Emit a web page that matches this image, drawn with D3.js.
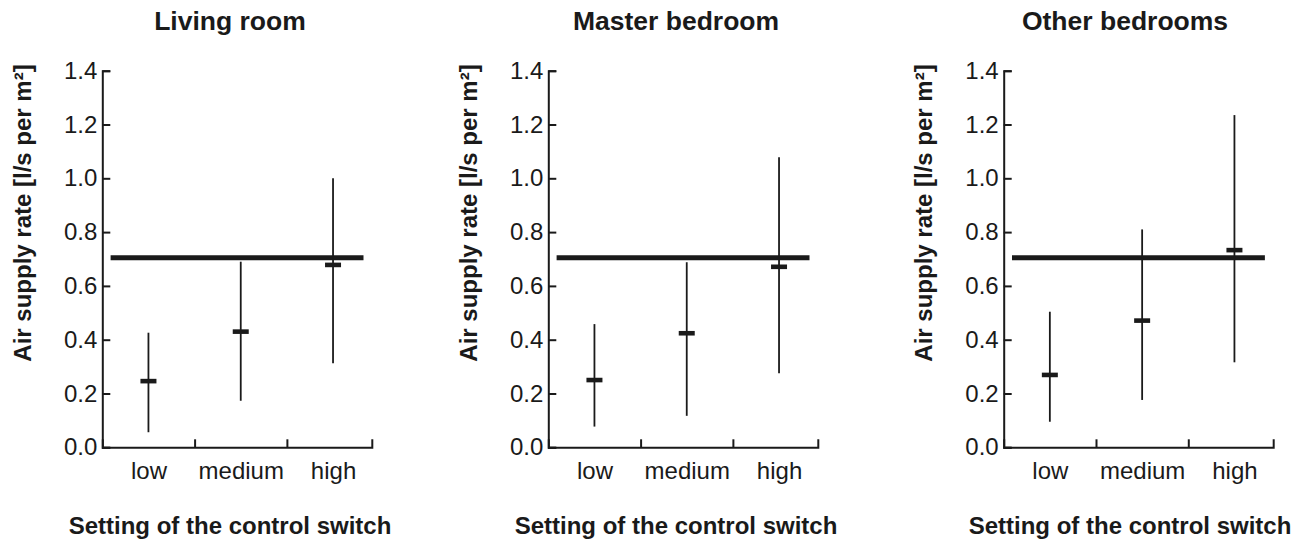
<!DOCTYPE html>
<html>
<head>
<meta charset="utf-8">
<script src="https://cdn.jsdelivr.net/npm/d3@7"></script>
<style>
  body { margin: 0; background: #fff; }
  svg { display: block; font-family: "Liberation Sans", Arial, sans-serif; }
  .axis path, .axis line { stroke: #1a1a1a; stroke-width: 2; }
  .axis text { font-size: 24px; fill: #1a1a1a; }
  .title { font-size: 26.5px; font-weight: bold; fill: #1a1a1a; }
  .xlabel, .ylabel { font-size: 24px; font-weight: bold; fill: #1a1a1a; }
</style>
</head>
<body>
<div id="chart"></div>
<script>
// data
var rooms = ["Living room", "Master bedroom", "Other bedrooms"];
var settings = ["low", "medium", "high"];
var yTicks = [0, 0.2, 0.4, 0.6, 0.8, 1.0, 1.2, 1.4];
var refValue = 0.705;

// mean / lower / upper per room, in order low, medium, high
var livingMean = [0.246, 0.430, 0.678];
var livingLow  = [0.056, 0.173, 0.312];
var livingHigh = [0.426, 0.690, 1.000];

var masterMean = [0.250, 0.424, 0.671];
var masterLow  = [0.077, 0.117, 0.275];
var masterHigh = [0.458, 0.688, 1.078];

var otherMean = [0.269, 0.471, 0.733];
var otherLow  = [0.095, 0.176, 0.316];
var otherHigh = [0.504, 0.810, 1.235];

var means = [livingMean, masterMean, otherMean],
    lows = [livingLow, masterLow, otherLow],
    highs = [livingHigh, masterHigh, otherHigh];

// layout
var W = 1309, H = 543;
var panelX = [102.3, 548.3, 1003.7],
    titleX = [230, 676, 1125],
    xTitleX = [230, 676, 1130],
    axisLen = 269.5,
    yTop = 70.7, yBottom = 447.3;

var svg = d3.select("#chart").append("svg")
  .attr("width", W)
  .attr("height", H);

var y = d3.scaleLinear().domain([0, 1.4]).range([yBottom, yTop]);
// categories sit at 0.5, 1.5, 2.5; axis stops a bit short of 3
var x = d3.scaleLinear().domain([0, 2.92]).range([0, axisLen]);

rooms.forEach(function(room, p) {
  var g = svg.append("g")
    .attr("transform", "translate(" + panelX[p] + ",0)");

  // y axis, ticks pointing inward
  g.append("g")
    .attr("class", "axis")
    .call(d3.axisLeft(y).tickValues(yTicks)
      .tickSize(-8).tickSizeOuter(-8).tickPadding(5)
      .tickFormat(d3.format(".1f")));

  // x axis line + inward ticks
  g.append("g")
    .attr("class", "axis")
    .attr("transform", "translate(0," + yBottom + ")")
    .call(d3.axisBottom(x).tickValues([1, 2])
      .tickSize(-8).tickSizeOuter(-8).tickFormat(""));

  // category labels
  var lab = g.append("g")
    .attr("class", "axis")
    .attr("transform", "translate(0," + yBottom + ")")
    .call(d3.axisBottom(x).tickValues([0.5, 1.5, 2.5])
      .tickSize(0).tickPadding(15)
      .tickFormat(function(d, i) { return settings[i]; }));
  lab.select(".domain").remove();

  // reference line
  g.append("line")
    .attr("x1", x(0.09)).attr("x2", x(2.83))
    .attr("y1", y(refValue)).attr("y2", y(refValue))
    .attr("stroke", "#1a1a1a")
    .attr("stroke-width", 5);

  var rows = settings.map(function(s, i) {
    return { pos: i + 0.5, mean: means[p][i], lo: lows[p][i], hi: highs[p][i] };
  });

  // whiskers
  g.selectAll(".whisker").data(rows).enter().append("line")
    .attr("class", "whisker")
    .attr("x1", function(d) { return x(d.pos); })
    .attr("x2", function(d) { return x(d.pos); })
    .attr("y1", function(d) { return y(d.lo); })
    .attr("y2", function(d) { return y(d.hi); })
    .attr("stroke", "#1a1a1a")
    .attr("stroke-width", 1.8);

  // mean markers
  g.selectAll(".mean").data(rows).enter().append("rect")
    .attr("class", "mean")
    .attr("x", function(d) { return x(d.pos) - 8; })
    .attr("y", function(d) { return y(d.mean) - 2.3; })
    .attr("width", 16)
    .attr("height", 4.6)
    .attr("fill", "#1a1a1a");

  // y label
  g.append("text")
    .attr("class", "ylabel")
    .attr("text-anchor", "middle")
    .attr("transform", "translate(-71.5,213) rotate(-90)")
    .text("Air supply rate [l/s per m²]");

  svg.append("text")
    .attr("class", "title")
    .attr("text-anchor", "middle")
    .attr("x", titleX[p])
    .attr("y", 29.5)
    .text(room);

  svg.append("text")
    .attr("class", "xlabel")
    .attr("text-anchor", "middle")
    .attr("x", xTitleX[p])
    .attr("y", 534)
    .text("Setting of the control switch");
});
</script>
</body>
</html>
